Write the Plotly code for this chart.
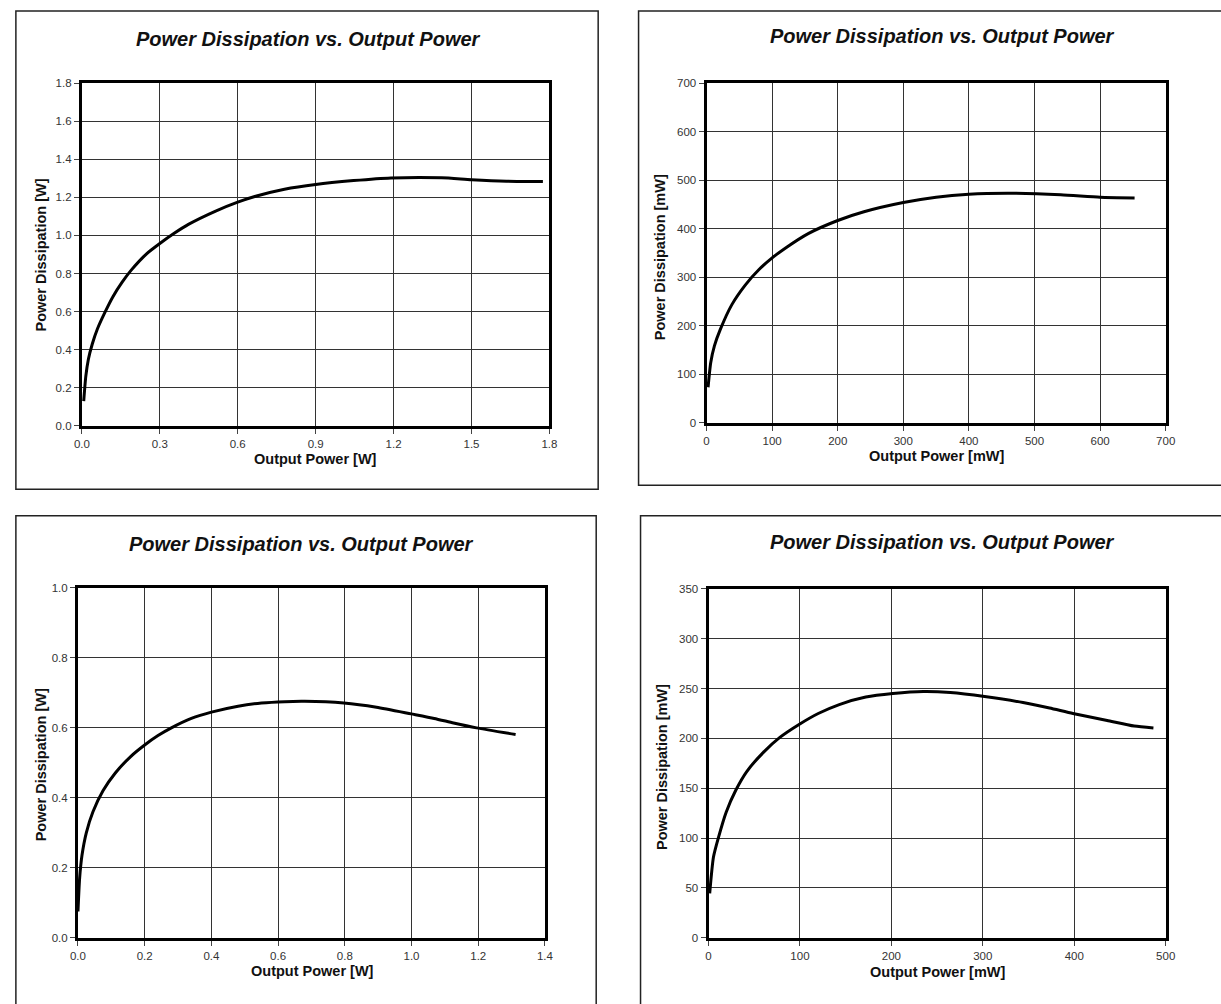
import plotly.graph_objects as go

W, H = 1221, 1004

# ---------------- data ----------------
# Chart 1 (top-left), W
p1_out = [0.007, 0.015, 0.025, 0.04, 0.06, 0.09, 0.12, 0.155, 0.19, 0.25, 0.30, 0.354,
          0.41, 0.515, 0.60, 0.68, 0.78, 0.90, 1.046, 1.19, 1.385, 1.50, 1.635, 1.775]
p1_diss = [0.13, 0.26, 0.35, 0.43, 0.51, 0.60, 0.68, 0.755, 0.818, 0.905, 0.958, 1.01,
           1.058, 1.128, 1.175, 1.21, 1.243, 1.268, 1.288, 1.302, 1.303, 1.293, 1.285, 1.283]

# Chart 2 (top-right), mW
p2_out = [2.3, 6.4, 12, 21, 38.6, 59, 80, 100, 120, 155, 200, 240, 300, 350,
          400, 460, 540, 600, 652.6]
p2_diss = [73.5, 124.6, 158.6, 192.6, 243.7, 284, 316, 340, 360, 390, 417, 435, 454,
           465, 471, 473, 470, 465, 463.5]

# Chart 3 (bottom-left), W
p3_out = [0.0, 0.005, 0.012, 0.025, 0.045, 0.075, 0.112, 0.158, 0.2, 0.24, 0.28, 0.34,
          0.4, 0.48, 0.55, 0.62, 0.68, 0.797, 0.895, 0.999, 1.068, 1.126, 1.195, 1.312]
p3_diss = [0.075, 0.17, 0.235, 0.30, 0.36, 0.42, 0.471, 0.518, 0.551, 0.578, 0.600, 0.627,
           0.645, 0.662, 0.671, 0.675, 0.676, 0.671, 0.659, 0.640, 0.627, 0.614, 0.600, 0.581]

# Chart 4 (bottom-right), mW
p4_out = [1.3, 5.4, 10.9, 19.3, 29.8, 42, 60, 78, 99, 120, 143, 172, 201.6, 235,
          264.5, 302, 344, 373, 398.6, 436, 465.6, 486.6]
p4_diss = [44.6, 80.9, 100.7, 126, 148, 167, 186, 201, 214, 225, 234, 241.5,
           245, 247, 246, 242, 236, 230.5, 225, 218, 212.4, 210.4]

chart_title = "Power Dissipation vs. Output Power"
x_titles = ["Output Power [W]", "Output Power [mW]", "Output Power [W]", "Output Power [mW]"]
y_titles = ["Power Dissipation [W]", "Power Dissipation [mW]", "Power Dissipation [W]", "Power Dissipation [mW]"]

# ---------------- layout geometry (pixels) ----------------
FONT = "Arial, 'Liberation Sans', Helvetica, sans-serif"

panels = [
    dict(plot=(75, 549.5, 78, 425), box=(8, 5, 599, 489), title=(305, 33), xt=(312, 458), yt=(33, 252),
         xr=[0, 1.8], xd=0.3, yr=[0, 1.8], yd=0.2, xf=".1f", yf=".1f"),
    dict(plot=(709, 1175, 78, 422), box=(640, 5, 1240, 485), title=(948, 30), xt=(942, 455), yt=(662, 254),
         xr=[0, 700], xd=100, yr=[0, 700], yd=100, xf="d", yf="d"),
    dict(plot=(71, 545, 589, 943), box=(8, 516, 597, 1020), title=(298, 545), xt=(309, 977), yt=(33, 768),
         xr=[0, 1.4], xd=0.2, yr=[0, 1.0], yd=0.2, xf=".1f", yf=".1f"),
    dict(plot=(711, 1175, 590, 943), box=(642, 516, 1240, 1020), title=(948, 542), xt=(943, 978), yt=(664, 770),
         xr=[0, 500], xd=100, yr=[0, 350], yd=50, xf="d", yf="d"),
]

series = [(p1_out, p1_diss), (p2_out, p2_diss), (p3_out, p3_diss), (p4_out, p4_diss)]

fig = go.Figure()
layout = dict(width=W, height=H, margin=dict(l=0, r=0, t=0, b=0),
              paper_bgcolor="white", plot_bgcolor="white", showlegend=False,
              font=dict(family=FONT, color="#222"))
annotations = []
shapes = []

def px(x):
    return x / W

def py(y):
    return 1 - y / H

for i, (p, (xs, ys)) in enumerate(zip(panels, series)):
    n = "" if i == 0 else str(i + 1)
    xa, ya = "x" + n, "y" + n
    fig.add_trace(go.Scatter(x=xs, y=ys, mode="lines", xaxis=xa, yaxis=ya,
                             line=dict(color="black", width=3, shape="spline", smoothing=0.6),
                             hoverinfo="skip"))
    l, r, t, b = p["plot"]
    common = dict(showline=True, linecolor="black", linewidth=3, mirror=True,
                  showgrid=True, gridcolor="#333", gridwidth=1, zeroline=False,
                  ticks="outside", ticklen=5, tickwidth=1, tickcolor="#444",
                  tickfont=dict(size=11.5, color="#333", family=FONT), fixedrange=True)
    layout["xaxis" + n] = dict(common, domain=[px(l), px(r)], range=p["xr"], dtick=p["xd"],
                               tick0=0, tickformat=p["xf"], anchor=ya)
    layout["yaxis" + n] = dict(common, domain=[py(b), py(t)], range=p["yr"], dtick=p["yd"],
                               tick0=0, tickformat=p["yf"], anchor=xa)
    bl, bt, br, bb = p["box"]
    shapes.append(dict(type="rect", xref="paper", yref="paper", x0=px(bl), x1=px(br),
                       y0=py(bb), y1=py(bt), line=dict(color="#222", width=1.5), layer="below"))
    annotations.append(dict(text="<b><i>" + chart_title + "</i></b>", xref="paper", yref="paper",
                            x=px(p["title"][0]), y=py(p["title"][1]), xanchor="center", yanchor="middle",
                            showarrow=False, font=dict(size=20, color="#111", family=FONT)))
    annotations.append(dict(text="<b>" + x_titles[i] + "</b>", xref="paper", yref="paper",
                            x=px(p["xt"][0]), y=py(p["xt"][1]), xanchor="center", yanchor="middle",
                            showarrow=False, font=dict(size=14.5, color="#111", family=FONT)))
    annotations.append(dict(text="<b>" + y_titles[i] + "</b>", xref="paper", yref="paper",
                            x=px(p["yt"][0]), y=py(p["yt"][1]), xanchor="center", yanchor="middle",
                            textangle=-90, showarrow=False, font=dict(size=14.5, color="#111", family=FONT)))

layout["annotations"] = annotations
layout["shapes"] = shapes
fig.update_layout(**layout)
fig.write_html("out.html")
